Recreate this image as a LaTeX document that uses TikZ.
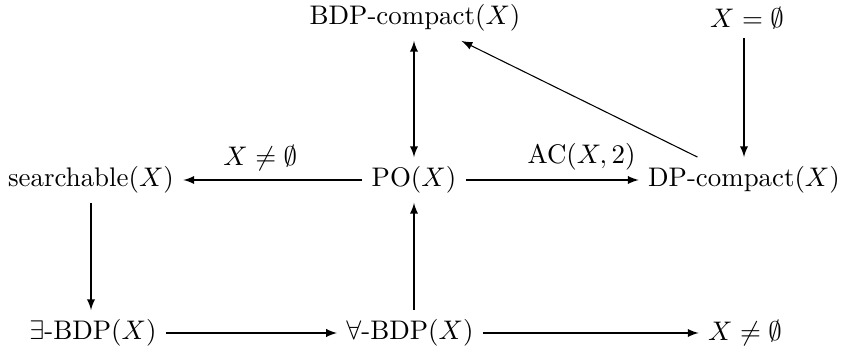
\documentclass[tikz,border=0pt]{standalone}
\usepackage{amssymb}
\usetikzlibrary{arrows}
\begin{document}
\begin{tikzpicture}[x=0.372pt,y=-0.372pt,arr/.style={-latex}]
    \useasboundingbox (0,0) rectangle (842,352);
    % top row
    \node (bdpc) at (415,18) {BDP-compact$(X)$};
    \node (empty) at (747,18) {$X=\emptyset$};
    % middle row
    \node (search) at (91,180) {searchable$(X)$};
    \node (po) at (414,180) {PO$(X)$};
    \node (dpc) at (744,180) {DP-compact$(X)$};
    % bottom row
    \node (exbdp) at (93,333) {$\exists$-BDP$(X)$};
    \node (allbdp) at (410,333) {$\forall$-BDP$(X)$};
    \node (nonempty) at (745,333) {$X\neq\emptyset$};
    \draw[latex-latex] (po) -- (po |- bdpc.south);
    \draw[arr] (po) -- node[above,pos=0.57] {$X\neq\emptyset$} (search);
    \draw[arr] (po) -- node[above,pos=0.67] {AC$(X,2)$} (dpc);
    \draw[arr] (dpc) -- (bdpc);
    \draw[arr] (empty.south -| dpc) -- (dpc);
    \draw[arr] (search) -- (search |- exbdp.north);
    \draw[arr] (exbdp) -- (allbdp);
    \draw[arr] (allbdp.north -| po) -- (po);
    \draw[arr] (allbdp) -- (nonempty);
  \end{tikzpicture}
\end{document}
